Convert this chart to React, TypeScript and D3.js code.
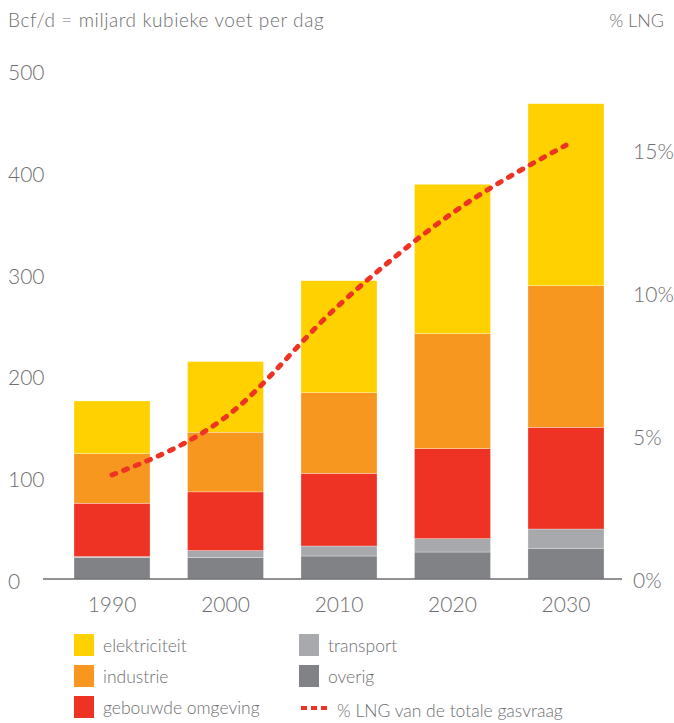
import React from "react";
import * as d3 from "d3";

const years = ["1990", "2000", "2010", "2020", "2030"];
const overig = [21, 21, 22.6, 26.5, 30.2];
const transport = [1, 6.9, 9.8, 13.1, 18.9];
const gebouwd = [52.4, 57.7, 71.4, 88.4, 99.9];
const industrie = [48.7, 58.6, 79.2, 113, 139.1];
const elektriciteit = [51.8, 69.4, 110, 146.7, 178.8];
const lngPct = [3.64, 5.66, 9.58, 12.8, 15.17];
const leftTicks = [0, 100, 200, 300, 400, 500];
const rightTicks = [0, 5, 10, 15];

const seriesKeys = ["overig", "transport", "gebouwd", "industrie", "elektriciteit"];
const seriesColors: Record<string, string> = {
  overig: "#808285",
  transport: "#A7A9AC",
  gebouwd: "#EE3224",
  industrie: "#F7971F",
  elektriciteit: "#FFD100",
};
const legendItems = [
  { label: "elektriciteit", key: "elektriciteit", col: 0, row: 0 },
  { label: "industrie", key: "industrie", col: 0, row: 1 },
  { label: "gebouwde omgeving", key: "gebouwd", col: 0, row: 2 },
  { label: "transport", key: "transport", col: 1, row: 0 },
  { label: "overig", key: "overig", col: 1, row: 1 },
];

const TEXT = "#6d6e71";
const FONT = "Lato, 'Open Sans', sans-serif";

export default function App() {
  const W = 674, H = 723;
  const x = d3.scaleBand<string>().domain(years).range([74, 604]).paddingInner(0.33).paddingOuter(0);
  const y = d3.scaleLinear().domain([0, 500]).range([579, 70]);
  const yR = d3.scaleLinear().domain([0, 17.8]).range([579, 70]);

  const table = years.map((yr, i) => ({
    year: yr,
    overig: overig[i],
    transport: transport[i],
    gebouwd: gebouwd[i],
    industrie: industrie[i],
    elektriciteit: elektriciteit[i],
  }));
  const stacked = d3.stack<any>().keys(seriesKeys)(table);

  const line = d3
    .line<number>()
    .x((_, i) => (x(years[i]) as number) + x.bandwidth() / 2)
    .y((d) => yR(d))
    .curve(d3.curveMonotoneX);

  return (
    <svg width={W} height={H} style={{ position: "absolute", left: 0, top: 0, background: "#fff" }} fontFamily={FONT}>
      <text x={8} y={27} fontSize={19} letterSpacing={0.6} fill={TEXT} fontWeight={300}>
        Bcf/d = miljard kubieke voet per dag
      </text>
      <text x={664} y={27} fontSize={18} fill={TEXT} textAnchor="end" fontWeight={300}>
        % LNG
      </text>

      {leftTicks.map((t) => (
        <text key={t} x={8} y={y(t) + 10} fontSize={21} fill={TEXT} fontWeight={300}>
          {t}
        </text>
      ))}
      {rightTicks.map((t) => (
        <text key={t} x={633} y={yR(t) + 9} fontSize={21} fill={TEXT} fontWeight={300}>
          {t}%
        </text>
      ))}

      {stacked.map((s) => (
        <g key={s.key} fill={seriesColors[s.key]}>
          {s.map((d, i) => (
            <rect
              key={i}
              x={x(years[i])}
              width={x.bandwidth()}
              y={y(d[1])}
              height={y(d[0]) - y(d[1])}
              stroke="#ffffff"
              strokeOpacity={0.5}
              strokeWidth={0.6}
            />
          ))}
        </g>
      ))}

      <line x1={43} x2={622} y1={579} y2={579} stroke={TEXT} strokeWidth={1.5} />

      {years.map((yr) => (
        <text
          key={yr}
          x={(x(yr) as number) + x.bandwidth() / 2}
          y={612}
          fontSize={21}
          fill={TEXT}
          textAnchor="middle"
          fontWeight={300}
        >
          {yr}
        </text>
      ))}

      <path
        d={line(lngPct) || ""}
        fill="none"
        stroke="#EE3224"
        strokeWidth={5}
        strokeDasharray="4 8.5"
        strokeLinecap="round"
      />

      {legendItems.map((it) => {
        const lx = it.col === 0 ? 74 : 299;
        const ly = 634 + it.row * 31;
        return (
          <g key={it.key}>
            <rect x={lx} y={ly} width={20} height={22} fill={seriesColors[it.key]} />
            <text x={lx + 29} y={ly + 18} fontSize={17.5} fill={TEXT} fontWeight={300}>
              {it.label}
            </text>
          </g>
        );
      })}
      <line x1={301} x2={327} y1={708} y2={708} stroke="#EE3224" strokeWidth={4} strokeDasharray="6 4" />
      <text x={337} y={717} fontSize={17.5} fill={TEXT} fontWeight={300}>
        % LNG van de totale gasvraag
      </text>
    </svg>
  );
}
